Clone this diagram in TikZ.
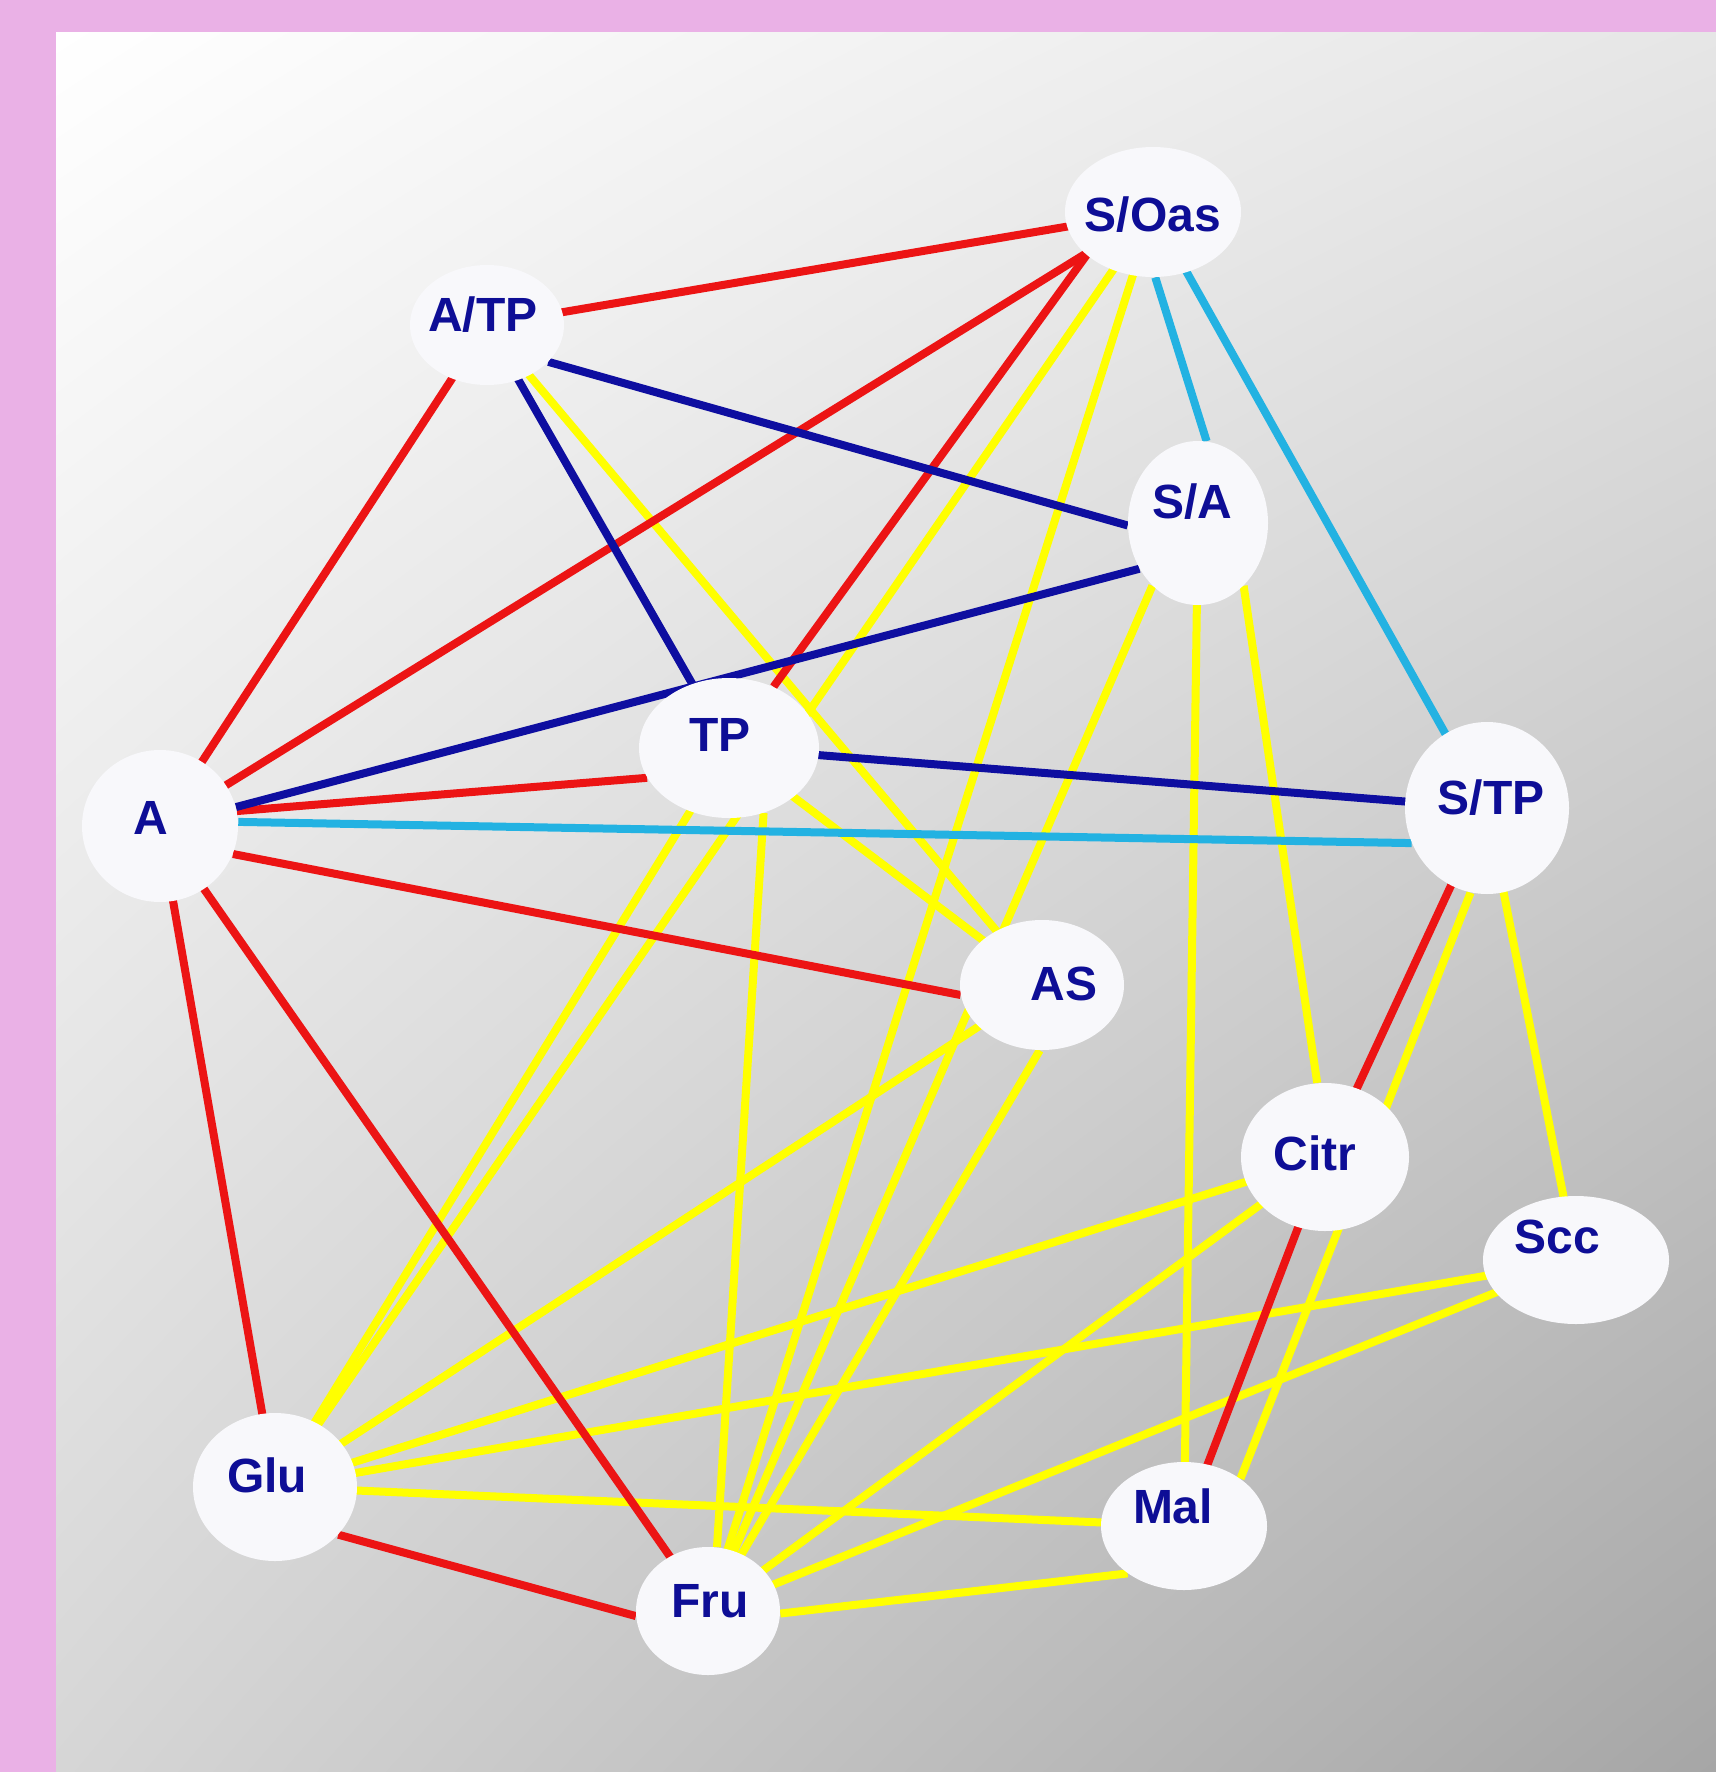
\documentclass[tikz,border=0pt]{standalone}
\usepackage{fontspec}
\setmainfont{Liberation Sans}
\usetikzlibrary{shapes.geometric,shadings}
\definecolor{pinkbg}{RGB}{234,177,230}
\definecolor{txtblue}{RGB}{14,14,150}
\definecolor{lred}{RGB}{236,20,20}
\definecolor{lblue}{RGB}{14,14,160}
\definecolor{lcyan}{RGB}{35,178,226}
\definecolor{lyellow}{RGB}{255,255,0}
\definecolor{vfill}{RGB}{248,248,251}
\definecolor{bgUR}{RGB}{230,230,230}
\definecolor{bgLL}{RGB}{214,214,214}
\definecolor{bgLR}{RGB}{166,166,166}
\pgfdeclarelayer{bg}
\pgfdeclarelayer{edges}
\pgfsetlayers{bg,edges,main}
\tikzset{
  vtx/.style={ellipse, inner sep=0pt, draw=none, fill=vfill},
  lbl/.style={font=\fontsize{24}{28}\selectfont\bfseries, text=txtblue, inner sep=0pt},
  edge/.style={line width=4pt},
  rl/.style={edge, draw=lred},
  bl/.style={edge, draw=lblue},
  cl/.style={edge, draw=lcyan},
  yl/.style={edge, draw=lyellow}
}
% name, x, y, rx, ry, text x, text y, label
\newcommand\mkvtx[8]{%
  \node[vtx, minimum width={#4pt+2pt}, minimum height={#5pt+2pt}] (#1) at (#2,#3) {};
  \node[lbl] (#1-t) at (#6,#7) {#8};
}
\begin{document}
\begin{tikzpicture}[x=0.5pt,y=-0.5pt]
\useasboundingbox (0,0) rectangle (1716,1772);
\begin{pgfonlayer}{bg}
  \fill[pinkbg] (0,0) rectangle (1716,1772);
  \shade[upper left=white, upper right=bgUR, lower left=bgLL, lower right=bgLR] (56,32) rectangle (1716,1772);
\end{pgfonlayer}

\mkvtx{SOas}{1153}{212}{86}{63}{1153}{215}{S/Oas}
\mkvtx{ATP}{487}{325}{75}{58}{483}{315}{A/TP}
\mkvtx{SA}{1198}{523}{68}{80}{1192}{502}{S/A}
\mkvtx{TP}{729}{748}{88}{68}{720}{735}{TP}
\mkvtx{A}{160}{826}{76}{74}{151}{818}{A}
\mkvtx{STP}{1487}{808}{80}{84}{1491}{798}{S/TP}
\mkvtx{AS}{1042}{985}{80}{63}{1064}{984}{AS}
\mkvtx{Citr}{1325}{1157}{82}{72}{1315}{1153}{Citr}
\mkvtx{Scc}{1576}{1260}{91}{62}{1557}{1237}{Scc}
\mkvtx{Glu}{275}{1487}{80}{72}{267}{1475}{Glu}
\mkvtx{Mal}{1184}{1526}{81}{62}{1173}{1506}{Mal}
\mkvtx{Fru}{708}{1611}{70}{62}{710}{1601}{Fru}

\begin{pgfonlayer}{edges}
  % yellow
  \draw[yl] (ATP.center) -- (AS.center);
  \draw[yl] (TP.center) -- (AS.center);
  \draw[yl] (TP.center) -- (Glu.center);
  \draw[yl] (TP.-62) -- (Fru.82);
  \draw[yl] (SOas.center) -- (Glu.center);
  \draw[yl] (SOas.center) -- (Fru.center);
  \draw[yl] (SA.-54) -- (Citr.96);
  \draw[yl] (SA.center) -- (Mal.center);
  \draw[yl] (SA.234) -- (Fru.center);
  \draw[yl] (AS.center) -- (Glu.center);
  \draw[yl] (AS.268) -- (Fru.center);
  \draw[yl] (STP.center) -- (Scc.center);
  \draw[yl] (STP.259) -- (Mal.40);
  \draw[yl] (Citr.center) -- (Glu.center);
  \draw[yl] (Citr.center) -- (Fru.center);
  \draw[yl] (Scc.center) -- (Glu.center);
  \draw[yl] (Scc.center) -- (Fru.center);
  \draw[yl] (Mal.center) -- (Glu.center);
  \draw[yl] (Fru.-2) -- (Mal.220);
  % cyan
  \draw[cl] (SOas.-88) -- (SA.84);
  \draw[cl] (SOas.center) -- (STP.center);
  \draw[cl] (A.3) -- (STP.205);
  % red
  \draw[rl] (ATP.center) -- (SOas.center);
  \draw[rl] (A.center) -- (ATP.center);
  \draw[rl] (A.center) -- (SOas.center);
  \draw[rl] (A.11) -- (TP.200);
  \draw[rl] (TP.54) -- (SOas.213);
  \draw[rl] (A.-21) -- (AS.187);
  \draw[rl] (A.center) -- (Glu.center);
  \draw[rl] (A.center) -- (Fru.center);
  \draw[rl] (Glu.-37) -- (Fru.184);
  \draw[rl] (STP.center) -- (Citr.center);
  \draw[rl] (Citr.center) -- (Mal.center);
  % dark blue
  \draw[bl] (ATP.-31) -- (SA.182);
  \draw[bl] (ATP.center) -- (TP.center);
  \draw[bl] (A.14) -- (SA.218);
  \draw[bl] (TP.center) -- (STP.center);
\end{pgfonlayer}
\end{tikzpicture}
\end{document}
